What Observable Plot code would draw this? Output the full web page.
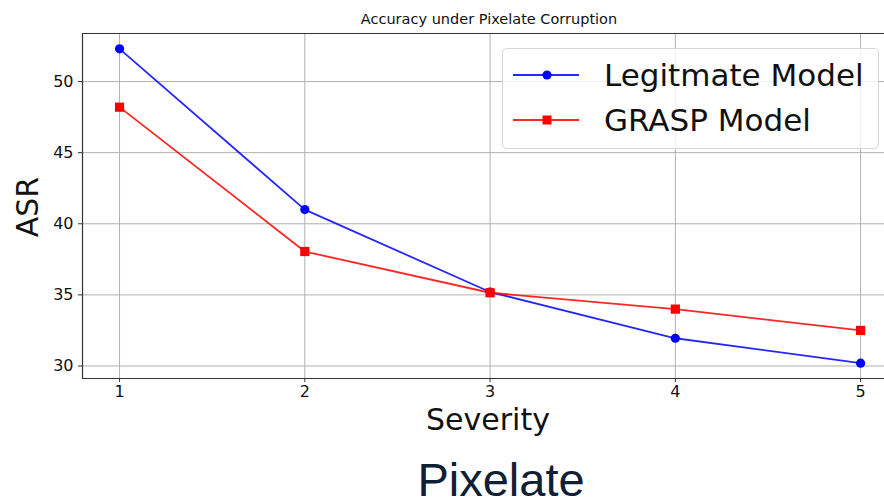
<!DOCTYPE html>
<html><head><meta charset="utf-8">
<script src="https://cdn.jsdelivr.net/npm/d3@7"></script>
<script src="https://cdn.jsdelivr.net/npm/@observablehq/plot@0.6"></script>
<style>
body{margin:0;background:#fff;}
#wrap{position:relative;width:884px;height:499px;overflow:hidden;font-family:"DejaVu Sans",sans-serif;color:#111;}
#wrap > svg{position:absolute;left:0;top:0;}
.lbl{position:absolute;white-space:nowrap;line-height:1;}
#legend{position:absolute;left:502px;top:48px;width:377px;height:101px;border:1px solid #d6d6d6;border-radius:5px;background:rgba(255,255,255,0.8);box-sizing:border-box;}
#legend .row{position:absolute;left:0;height:40px;display:flex;align-items:center;}
#legend .row svg{position:static;flex:none;}
#legend .row span{font-size:31px;margin-left:25px;color:#111;line-height:1;}
</style></head>
<body><div id="wrap"></div>
<script>
const severity = [1, 2, 3, 4, 5];
const legitimate = [52.3, 41.0, 35.2, 31.95, 30.2];
const grasp = [48.2, 38.05, 35.15, 34.0, 32.5];
const seriesNames = ["Legitmate Model", "GRASP Model"];
const seriesColors = ["#0000ff", "#ff0000"];
const seriesSymbols = ["circle", "square"];
const yTicks = [30, 35, 40, 45, 50];
const titleText = "Accuracy under Pixelate Corruption";
const xLabel = "Severity";
const yLabel = "ASR";
const captionText = "Pixelate";

const rows = [];
[legitimate, grasp].forEach((vals, i) => vals.forEach((v, j) => rows.push({s: seriesNames[i], x: severity[j], y: v})));

const xDomain = [0.8, 5.129];
const yDomain = [29.12, 53.38];

const chart = Plot.plot({
  width: 884, height: 499,
  marginLeft: 82, marginRight: 0, marginTop: 33, marginBottom: 121,
  style: {fontFamily: "DejaVu Sans, sans-serif", background: "transparent", color: "#111"},
  x: {domain: xDomain, label: null},
  y: {domain: yDomain, label: null},
  marks: [
    Plot.gridX(severity, {stroke: "#b0b0b0", strokeOpacity: 1, strokeWidth: 1}),
    Plot.gridY(yTicks, {stroke: "#b0b0b0", strokeOpacity: 1, strokeWidth: 1}),
    Plot.ruleX([xDomain[0]], {stroke: "#333", strokeWidth: 1.2}),
    Plot.ruleY([yDomain[0], yDomain[1]], {stroke: "#333", strokeWidth: 1.2}),
    Plot.axisX(severity, {tickSize: 4, tickPadding: 3, fontSize: 16, tickFormat: d3.format("d"), stroke: "#333", label: null}),
    Plot.axisY(yTicks, {tickSize: 4, tickPadding: 5, fontSize: 16, stroke: "#333", label: null}),
    ...seriesNames.map((n, i) => Plot.line(rows.filter(r => r.s === n), {x: "x", y: "y", stroke: seriesColors[i], strokeOpacity: 0.85, strokeWidth: 1.8})),
    ...seriesNames.map((n, i) => Plot.dot(rows.filter(r => r.s === n), {x: "x", y: "y", fill: seriesColors[i], stroke: "none", symbol: seriesSymbols[i], r: i === 0 ? 4.6 : 5.2}))
  ]
});
const wrap = document.getElementById("wrap");
wrap.appendChild(chart);

function addLabel(text, css) {
  const d = document.createElement("div");
  d.className = "lbl";
  d.textContent = text;
  Object.assign(d.style, css);
  wrap.appendChild(d);
  return d;
}
addLabel(titleText, {fontSize: "14.5px", left: "489px", top: "12px", transform: "translateX(-50%)"});
addLabel(xLabel, {fontSize: "30px", left: "488px", top: "405px", transform: "translateX(-50%)"});
addLabel(yLabel, {fontSize: "30px", left: "28px", top: "207px", transform: "translate(-50%,-50%) rotate(-90deg)"});
addLabel(captionText, {fontSize: "47px", lineHeight: "0.8", left: "501px", top: "461px", transform: "translateX(-50%)", fontFamily: "Liberation Sans, Arial, sans-serif", color: "#0f2035"});

const legend = document.createElement("div");
legend.id = "legend";
seriesNames.forEach((n, i) => {
  const row = document.createElement("div");
  row.className = "row";
  row.style.top = (i === 0 ? 6 : 51) + "px";
  row.style.left = "10px";
  const sw = d3.create("svg").attr("width", 66).attr("height", 20);
  sw.append("line").attr("x1", 0).attr("x2", 66).attr("y1", 10).attr("y2", 10).attr("stroke", seriesColors[i]).attr("stroke-opacity", 0.85).attr("stroke-width", 1.8);
  if (i === 0) sw.append("circle").attr("cx", 34).attr("cy", 10).attr("r", 4.6).attr("fill", seriesColors[i]);
  else sw.append("rect").attr("x", 29.5).attr("y", 5.5).attr("width", 9).attr("height", 9).attr("fill", seriesColors[i]);
  row.appendChild(sw.node());
  const sp = document.createElement("span");
  sp.textContent = n;
  row.appendChild(sp);
  legend.appendChild(row);
});
wrap.appendChild(legend);
</script></body></html>
